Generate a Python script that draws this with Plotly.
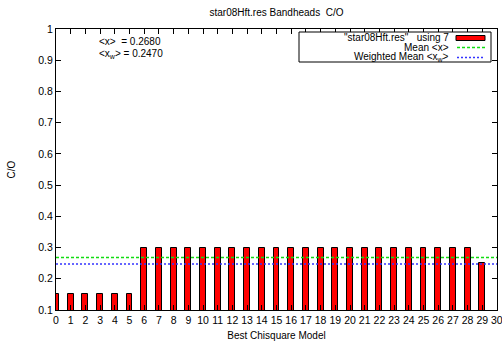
import plotly.graph_objects as go

# Best-fit model index and the C/O ratio of each model
models = list(range(30))
co_values = [0.15] * 6 + [0.30] * 23 + [0.25]
mean_co = 0.2680
wmean_co = 0.2470

x_ticks = list(range(31))
y_ticks = [round(0.1 * i, 1) for i in range(1, 11)]

FONT = "Liberation Sans, Arial, sans-serif"
W, H = 502, 345
L, R, T, B = 56, 5, 29, 35

GREEN = "#11dd11"
BLUE = "#3333ff"
GREEN_DASH = "3px,2px"
BLUE_DASH = "2px,2px"

fig = go.Figure()

fig.add_trace(go.Bar(
    x=models, y=co_values, width=0.4,
    marker=dict(color="#ff0000", line=dict(color="#000000", width=1)),
    showlegend=False,
))
fig.add_trace(go.Scatter(
    x=[0, 30], y=[mean_co, mean_co], mode="lines",
    line=dict(color=GREEN, width=1.5, dash=GREEN_DASH), showlegend=False,
))
fig.add_trace(go.Scatter(
    x=[0, 30], y=[wmean_co, wmean_co], mode="lines",
    line=dict(color=BLUE, width=1.5, dash=BLUE_DASH), showlegend=False,
))

pw, ph = W - L - R, H - T - B


def px(xp):
    return (xp - L) / pw


def py(yp):
    return (H - B - yp) / ph


shapes = [
    # key box
    dict(type="rect", xref="paper", yref="paper",
         x0=px(299), x1=px(491), y0=py(62), y1=py(32),
         line=dict(color="black", width=1), fillcolor="white", layer="above"),
    dict(type="rect", xref="paper", yref="paper",
         x0=px(456), x1=px(485), y0=py(40.5), y1=py(35.5),
         line=dict(color="black", width=1), fillcolor="#ff0000", layer="above"),
    dict(type="line", xref="paper", yref="paper",
         x0=px(457), x1=px(485), y0=py(47.5), y1=py(47.5),
         line=dict(color=GREEN, width=1.5, dash=GREEN_DASH), layer="above"),
    dict(type="line", xref="paper", yref="paper",
         x0=px(457), x1=px(485), y0=py(57.5), y1=py(57.5),
         line=dict(color=BLUE, width=1.5, dash=BLUE_DASH), layer="above"),
]

key_rows = [
    ('"star08Hft.res"   using 7', 37.5),
    ("Mean &lt;x&gt;", 47),
    ("Weighted Mean &lt;x<sub>w</sub>&gt;", 57.5),
]
annotations = [
    dict(xref="paper", yref="paper", x=px(451), y=py(yc), text=t,
         xanchor="right", yanchor="middle", showarrow=False,
         font=dict(size=10, color="black", family=FONT))
    for t, yc in key_rows
]
annotations += [
    dict(xref="paper", yref="paper", x=px(97), y=py(42),
         text="&lt;x&gt;  = %.4f" % mean_co, xanchor="left", yanchor="middle",
         showarrow=False, font=dict(size=10, color="black", family=FONT)),
    dict(xref="paper", yref="paper", x=px(97), y=py(54),
         text="&lt;x<sub>w</sub>&gt; = %.4f" % wmean_co, xanchor="left",
         yanchor="middle", showarrow=False,
         font=dict(size=10, color="black", family=FONT)),
    # last x tick label sits at the very edge of the page
    dict(xref="x", yref="paper", x=x_ticks[-1], y=py(320), text=str(x_ticks[-1]),
         xanchor="center", yanchor="middle", showarrow=False,
         font=dict(size=10.5, color="black", family=FONT)),
]

fig.update_layout(
    width=W, height=H,
    margin=dict(l=L, r=R, t=T, b=B),
    paper_bgcolor="white", plot_bgcolor="white",
    font=dict(family=FONT, size=10, color="black"),
    title=dict(text="star08Hft.res Bandheads  C/O", x=(L + (W - L - R) / 2) / W,
               xanchor="center", y=1 - 12 / H, yanchor="middle",
               font=dict(size=10, family=FONT)),
    bargap=0,
    shapes=shapes,
    annotations=annotations,
    showlegend=False,
)
fig.update_xaxes(
    range=[0, 30], tickvals=x_ticks,
    ticktext=[str(v) for v in x_ticks[:-1]] + [""],
    ticks="inside", ticklen=5, tickcolor="black", showline=True,
    linecolor="black", linewidth=1, mirror="ticks", showgrid=False,
    zeroline=False, tickfont=dict(size=10.5),
    title=dict(text="Best Chisquare Model", font=dict(size=10), standoff=7),
)
fig.update_yaxes(
    range=[0.1, 1.0], tickvals=y_ticks, ticktext=["%g" % v for v in y_ticks],
    ticks="inside", ticklen=5, tickcolor="black", showline=True,
    linecolor="black", linewidth=1, mirror="ticks", showgrid=False,
    zeroline=False, tickfont=dict(size=10.5),
    title=dict(text="C/O", font=dict(size=10), standoff=20),
)

fig.write_html("out.html")
